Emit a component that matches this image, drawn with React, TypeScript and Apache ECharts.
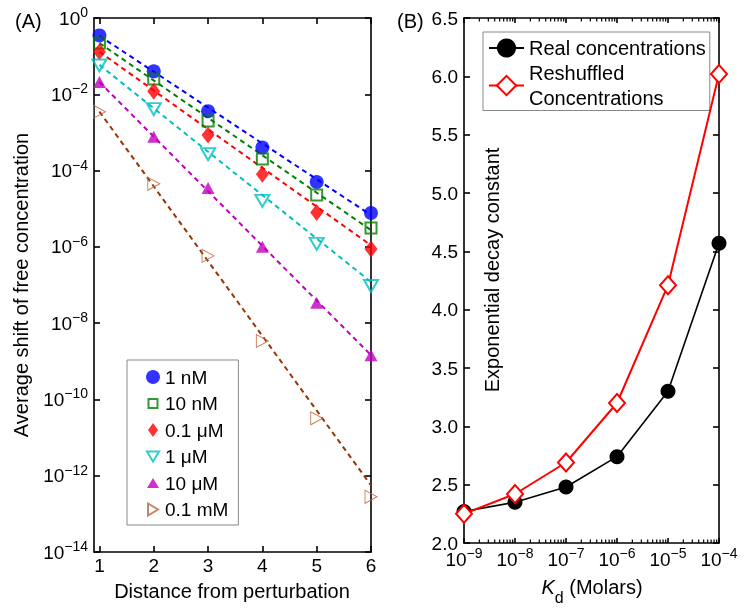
import React, { useEffect, useRef } from "react";
import * as echarts from "echarts";

// ---------- Panel A data ----------
const distances = [1, 2, 3, 4, 5, 6];
const conc1nM = [0.35, 0.04, 0.0036, 4e-4, 5e-5, 7.7e-6];
const conc10nM = [0.22, 0.025, 0.002, 2e-4, 2.3e-5, 3.1e-6];
const conc01uM = [0.13, 0.012, 8.5e-4, 8e-5, 8e-6, 8.8e-7];
const conc1uM = [0.057, 0.0041, 2.7e-4, 1.6e-5, 1.2e-6, 9.4e-8];
const conc10uM = [0.021, 7.7e-4, 3.5e-5, 1e-6, 3.4e-8, 1.45e-9];
const conc01mM = [0.0035, 4.5e-5, 5.8e-7, 3.4e-9, 3.2e-11, 2.8e-13];
// dashed fit lines: value at distance 1 and at distance 6
const fitX = [1, 6];
const fit1nM = [0.34, 6.8e-6];
const fit10nM = [0.22, 2.75e-6];
const fit01uM = [0.13, 1.1e-6];
const fit1uM = [0.059, 1.2e-7];
const fit10uM = [0.021, 1.45e-9];
const fit01mM = [0.0035, 5.6e-13];
const seriesNamesA = ["1 nM", "10 nM", "0.1 μM", "1 μM", "10 μM", "0.1 mM"];
const yTicksA = [1e-14, 1e-12, 1e-10, 1e-8, 1e-6, 1e-4, 1e-2, 1];

// ---------- Panel B data ----------
const kd = [1e-9, 1e-8, 1e-7, 1e-6, 1e-5, 1e-4];
const realConc = [2.27, 2.35, 2.48, 2.74, 3.3, 4.57];
const reshuffledConc = [2.25, 2.42, 2.69, 3.2, 4.21, 6.02];
const xTicksB = [1e-9, 1e-8, 1e-7, 1e-6, 1e-5, 1e-4];
const seriesNamesB = ["Real concentrations", "Reshuffled Concentrations"];

const minorTicksB: number[] = [];
for (let k = -9; k <= -5; k++) {
  for (let m = 2; m <= 9; m++) minorTicksB.push(m * Math.pow(10, k));
}

const FONT = "'Liberation Sans', Arial, Helvetica, sans-serif";
const Y_MIN_B = 2.0;
const Y_MAX_B = 6.5;

const powLabel = (v: number) => {
  const e = Math.round(Math.log10(v));
  return `{b|10}{s|${e < 0 ? "\u2212" : ""}${Math.abs(e)}}`;
};
const powRich = {
  b: { fontSize: 19, lineHeight: 26, color: "#000", fontFamily: FONT },
  s: { fontSize: 14, lineHeight: 13, verticalAlign: "top", color: "#000", fontFamily: FONT },
};

const axisLineStyle = { show: true, onZero: false, lineStyle: { color: "#000", width: 1.6 } };
const tick = (length: number, customValues?: number[], width = 1.6) => {
  const t: any = { show: true, inside: true, length, lineStyle: { color: "#000", width } };
  if (customValues) t.customValues = customValues;
  return t;
};

export default function App() {
  const ref = useRef<HTMLDivElement>(null);
  useEffect(() => {
    if (!ref.current) return;
    const chart = echarts.init(ref.current, null, { renderer: "svg" });

    const colorsA = ["#0000ff", "#008000", "#ff0000", "#00bfbf", "#bf00bf", "#b8683f"];
    const lineColorsA = ["#0000ff", "#008000", "#ff0000", "#00bfbf", "#bf00bf", "#993300"];
    const concs = [conc1nM, conc10nM, conc01uM, conc1uM, conc10uM, conc01mM];
    const fits = [fit1nM, fit10nM, fit01uM, fit1uM, fit10uM, fit01mM];
    const symbols = ["circle", "rect", "diamond", "triangle", "triangle", "triangle"];
    const symbolSizes: any[] = [14, 11, [13, 17], [14, 12], [13, 12], [13, 12]];
    const rotates = [0, 0, 0, 180, 0, -90];
    const filled = [true, false, true, false, true, false];
    const borderW = [0, 2, 0, 2, 0, 1];
    const legendIcons: (string | undefined)[] = [
      undefined,
      "path://M0,0M14,14M2.5,2.5L11.5,2.5L11.5,11.5L2.5,11.5Z",
      "path://M0,0M14,14M7,0L12,7L7,14L2,7Z",
      "path://M0,0M14,14M1,2L13,2L7,12Z",
      "path://M0,0M14,14M1,12L13,12L7,2Z",
      "path://M0,0M14,14M2,1L12,7L2,13Z",
    ];

    const fitSeries = fits.map((f, i) => ({
      type: "line",
      name: "fit " + seriesNamesA[i],
      xAxisIndex: 0,
      yAxisIndex: 0,
      data: fitX.map((x, j) => [x, f[j]]),
      symbol: "none",
      lineStyle: { color: lineColorsA[i], width: 2, type: [5, 4] },
      z: 2,
      silent: true,
    }));

    const scatterSeries = concs.map((c, i) => ({
      type: "scatter",
      name: seriesNamesA[i],
      xAxisIndex: 0,
      yAxisIndex: 0,
      data: distances.map((d, j) => [d, c[j]]),
      symbol: symbols[i],
      symbolSize: symbolSizes[i],
      symbolRotate: rotates[i],
      itemStyle: filled[i]
        ? { color: colorsA[i] }
        : { color: "rgba(255,255,255,0)", borderColor: colorsA[i], borderWidth: borderW[i] },
      z: 3 + i,
    }));

    const logXB = { gridIndex: 1, type: "log", logBase: 10, min: 1e-9, max: 1e-4, splitLine: { show: false } };

    const option: any = {
      animation: false,
      textStyle: { fontFamily: FONT },
      grid: [
        { left: 94, top: 18, width: 277, height: 534 },
        { left: 464, top: 18, width: 255, height: 525 },
      ],
      xAxis: [
        {
          gridIndex: 0, type: "value", min: 0.9, max: 6, position: "bottom",
          axisLine: axisLineStyle,
          axisTick: tick(6, distances),
          axisLabel: { customValues: distances, color: "#000", fontSize: 19, margin: 4, fontFamily: FONT },
          splitLine: { show: false },
        },
        {
          gridIndex: 0, type: "value", min: 0.9, max: 6, position: "top",
          axisLine: axisLineStyle,
          axisTick: tick(6, distances),
          axisLabel: { show: false },
          splitLine: { show: false },
        },
        {
          ...logXB, position: "bottom",
          axisLine: axisLineStyle,
          axisTick: tick(5, xTicksB),
          axisLabel: { customValues: xTicksB, formatter: powLabel, rich: powRich, margin: 3 },
        },
        {
          ...logXB, position: "top",
          axisLine: axisLineStyle,
          axisTick: tick(5, xTicksB),
          axisLabel: { show: false },
        },
      ],
      yAxis: [
        {
          gridIndex: 0, type: "log", logBase: 10, min: 1e-14, max: 1, position: "left",
          axisLine: axisLineStyle,
          axisTick: tick(6, yTicksA),
          axisLabel: { customValues: yTicksA, formatter: powLabel, rich: powRich, margin: 6 },
          splitLine: { show: false },
        },
        {
          gridIndex: 0, type: "log", logBase: 10, min: 1e-14, max: 1, position: "right",
          axisLine: axisLineStyle,
          axisTick: tick(6, yTicksA),
          axisLabel: { show: false },
          splitLine: { show: false },
        },
        {
          gridIndex: 1, type: "value", min: Y_MIN_B, max: Y_MAX_B, interval: 0.5, position: "left",
          axisLine: axisLineStyle,
          axisTick: tick(6),
          axisLabel: { color: "#000", fontSize: 19, margin: 6, fontFamily: FONT, formatter: (v: number) => v.toFixed(1) },
          splitLine: { show: false },
        },
        {
          gridIndex: 1, type: "value", min: Y_MIN_B, max: Y_MAX_B, interval: 0.5, position: "right",
          axisLine: axisLineStyle,
          axisTick: tick(6),
          axisLabel: { show: false },
          splitLine: { show: false },
        },
      ],
      legend: [
        {
          data: seriesNamesA.map((n, i) => (legendIcons[i] ? { name: n, icon: legendIcons[i] } : { name: n })),
          orient: "vertical",
          left: 127,
          top: 360,
          itemWidth: 14,
          itemHeight: 14,
          itemGap: 6.5,
          padding: [7, 10, 5.5, 18],
          borderColor: "#888",
          borderWidth: 1,
          backgroundColor: "#fff",
          textStyle: { fontSize: 19, lineHeight: 20, color: "#000", fontFamily: FONT },
          selectedMode: false,
        },
        {
          data: seriesNamesB,
          orient: "vertical",
          left: 483,
          top: 32,
          itemWidth: 35,
          itemHeight: 24,
          itemGap: 0,
          padding: [3.5, 4, 0, 5],
          borderColor: "#888",
          borderWidth: 1,
          backgroundColor: "#fff",
          formatter: (n: string) => (n === "Reshuffled Concentrations" ? "Reshuffled\nConcentrations" : n),
          textStyle: { fontSize: 20, lineHeight: 25, color: "#000", fontFamily: FONT },
          selectedMode: false,
        },
      ],
      series: [
        ...fitSeries,
        ...scatterSeries,
        {
          type: "custom",
          name: "minor ticks",
          xAxisIndex: 2,
          yAxisIndex: 2,
          silent: true,
          clip: false,
          z: 10,
          data: minorTicksB.map((v) => [v, Y_MIN_B]),
          renderItem: (params: any, api: any) => {
            const v = api.value(0);
            const b = api.coord([v, Y_MIN_B]);
            const t = api.coord([v, Y_MAX_B]);
            return {
              type: "group",
              children: [
                { type: "line", shape: { x1: b[0], y1: b[1], x2: b[0], y2: b[1] - 3.5 }, style: { stroke: "#000", lineWidth: 1.2 } },
                { type: "line", shape: { x1: t[0], y1: t[1], x2: t[0], y2: t[1] + 3.5 }, style: { stroke: "#000", lineWidth: 1.2 } },
              ],
            };
          },
        },
        {
          type: "line",
          name: seriesNamesB[0],
          xAxisIndex: 2,
          yAxisIndex: 2,
          data: kd.map((k, i) => [k, realConc[i]]),
          symbol: "circle",
          symbolSize: 15,
          itemStyle: { color: "#000" },
          lineStyle: { color: "#000", width: 1.6 },
          z: 5,
        },
        {
          type: "line",
          name: seriesNamesB[1],
          xAxisIndex: 2,
          yAxisIndex: 2,
          data: kd.map((k, i) => [k, reshuffledConc[i]]),
          symbol: "diamond",
          symbolSize: [16, 18],
          itemStyle: { color: "#fff", borderColor: "#ff0000", borderWidth: 2 },
          lineStyle: { color: "#ff0000", width: 2 },
          z: 6,
        },
      ],
      graphic: [
        { type: "text", left: 15, top: 11, style: { text: "(A)", fontSize: 20, fill: "#000", fontFamily: FONT } },
        { type: "text", left: 397, top: 11, style: { text: "(B)", fontSize: 20, fill: "#000", fontFamily: FONT } },
        {
          type: "text", x: 21, y: 285, rotation: Math.PI / 2,
          style: { text: "Average shift of free concentration", fontSize: 20, fill: "#000", align: "center", verticalAlign: "middle", fontFamily: FONT },
        },
        {
          type: "text", x: 232, y: 591,
          style: { text: "Distance from perturbation", fontSize: 20, fill: "#000", align: "center", verticalAlign: "middle", fontFamily: FONT },
        },
        {
          type: "text", x: 492, y: 270, rotation: Math.PI / 2,
          style: { text: "Exponential decay constant", fontSize: 20, fill: "#000", align: "center", verticalAlign: "middle", fontFamily: FONT },
        },
        {
          type: "text", x: 592, y: 591,
          style: {
            text: "{i|K}{d|d}{n| (Molars)}",
            align: "center",
            verticalAlign: "middle",
            rich: {
              i: { fontSize: 20, fontStyle: "italic", fill: "#000", fontFamily: FONT, lineHeight: 24, verticalAlign: "top" },
              d: { fontSize: 16, fill: "#000", fontFamily: FONT, lineHeight: 28, verticalAlign: "bottom" },
              n: { fontSize: 20, fill: "#000", fontFamily: FONT, lineHeight: 24, verticalAlign: "top" },
            },
          },
        },
      ],
    };
    chart.setOption(option);
    return () => chart.dispose();
  }, []);
  return <div ref={ref} style={{ position: "fixed", left: 0, top: 0, width: 750, height: 610 }} />;
}
